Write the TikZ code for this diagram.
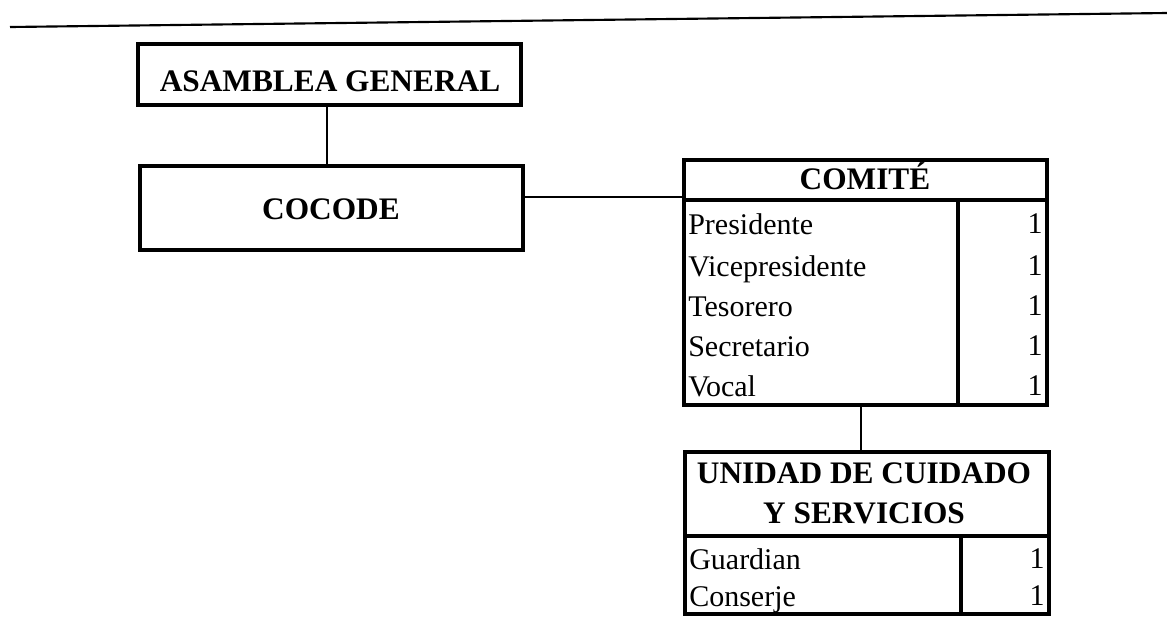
\documentclass[tikz,border=0pt]{standalone}
\usepackage{fontspec}
\setmainfont{Liberation Serif}
\usetikzlibrary{fit}
\begin{document}
\begin{tikzpicture}[x=0.75pt,y=-0.75pt,
  box/.style={draw, line width=2.8pt, inner sep=0pt},
  head/.style={font=\fontsize{23.5}{28}\selectfont\bfseries, align=center, anchor=base, inner sep=0pt},
  rowtxt/.style={font=\fontsize{22.5}{26}\selectfont, anchor=base west, inner sep=0pt},
  numtxt/.style={font=\fontsize{22.5}{26}\selectfont, anchor=base east, inner sep=0pt},
  conn/.style={line width=1.7pt},
  sep/.style={line width=2.8pt},
  rule/.style={line width=1.6pt}]
\useasboundingbox (0,0) rectangle (1167,626);
% top rule
\coordinate (r1) at (10,27);
\coordinate (r2) at (1167,13);
\draw[rule] (r1) -- (r2);
% boxes
\node[box, fit={(138,44) (521,105)}] (asam) {};
\node[head] (asamt) at (330,91) {ASAMBLEA GENERAL};
\node[box, fit={(140,166) (523,250)}] (cocode) {};
\node[head] (cocodet) at (331,219) {COCODE};
% COMITE table
\node[box, fit={(684,160) (1047,405)}] (comite) {};
\coordinate (c1) at (684,200);
\coordinate (c2) at (958,200);
\draw[sep] (c1) -- (c1 -| comite.east);
\draw[sep] (c2) -- (c2 |- comite.south);
\node[head] (comitet) at (865,189) {COMITÉ};
\node[rowtxt] (p1) at (688,234) {Presidente};
\node[rowtxt] (p2) at (688,276) {Vicepresidente};
\node[rowtxt] (p3) at (688,316) {Tesorero};
\node[rowtxt] (p4) at (688,356) {Secretario};
\node[rowtxt] (p5) at (688,396) {Vocal};
\node[numtxt] (n1) at (1043,233) {1};
\node[numtxt] (n2) at (1043,275) {1};
\node[numtxt] (n3) at (1043,315) {1};
\node[numtxt] (n4) at (1043,355) {1};
\node[numtxt] (n5) at (1043,395) {1};
% UNIDAD table
\node[box, fit={(685,452) (1049,614)}] (unidad) {};
\coordinate (u1) at (685,536);
\coordinate (u2) at (961,536);
\draw[sep] (u1) -- (u1 -| unidad.east);
\draw[sep] (u2) -- (u2 |- unidad.south);
\node[head] (unidadt1) at (864,483) {UNIDAD DE CUIDADO};
\node[head] (unidadt2) at (864,523) {Y SERVICIOS};
\node[rowtxt] (g1) at (689,569) {Guardian};
\node[rowtxt] (g2) at (689,606) {Conserje};
\node[numtxt] (m1) at (1045,568) {1};
\node[numtxt] (m2) at (1045,605) {1};
% connectors
\draw[conn] (asam.south -| 327,0) -- (cocode.north -| 327,0);
\coordinate (h1) at (523,197);
\draw[conn] (h1) -- (h1 -| comite.west);
\coordinate (v1) at (861,405);
\draw[conn] (v1) -- (v1 |- unidad.north);
\end{tikzpicture}
\end{document}
